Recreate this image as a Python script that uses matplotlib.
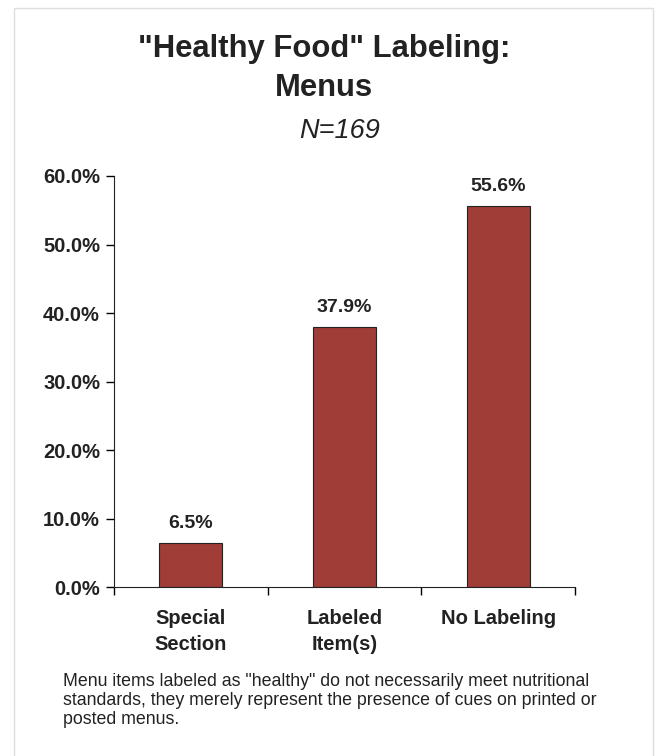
import numpy as np
from matplotlib import pyplot as plt
from matplotlib.patches import Rectangle
from matplotlib.ticker import FuncFormatter

plt.rcParams['font.family'] = ['Liberation Sans', 'DejaVu Sans']

categories = ["Special\nSection", "Labeled\nItem(s)", "No Labeling"]
shares = [0.065, 0.379, 0.556]
bar_labels = ["6.5%", "37.9%", "55.6%"]

fig = plt.figure(figsize=(6.55, 7.56), dpi=100)
ax = fig.add_axes([0.174, 0.2235, 0.704, 0.5437])

x = np.arange(len(categories))
ax.bar(x, shares, width=0.41, color='#a03d37', edgecolor='#222222', linewidth=0.8)

# etykiety nad slupkami
for xi, v, lab in zip(x, shares, bar_labels):
    ax.text(xi, v + 0.016, lab, ha='center', va='bottom', fontsize=14, fontweight='bold', color='#222222')

ax.set_xlim(-0.5, 2.5)
ax.set_ylim(0, 0.6)
ax.set_yticks(np.arange(0, 0.61, 0.1))
ax.yaxis.set_major_formatter(FuncFormatter(lambda v, p: f"{v*100:.1f}%"))
ax.set_xticks(x)
ax.set_xticklabels(categories, fontsize=14.5, fontweight='bold', color='#222222', linespacing=1.45)
ax.set_xticks([-0.5, 0.5, 1.5, 2.5], minor=True)
ax.tick_params(axis='x', which='major', length=0, pad=16)
ax.tick_params(axis='x', which='minor', length=6, direction='out', width=1)
ax.tick_params(axis='y', length=6, direction='out', width=1, labelsize=14.5, pad=4)
for t in ax.get_yticklabels():
    t.set_fontweight('bold')
    t.set_color('#222222')
for s in ['top', 'right']:
    ax.spines[s].set_visible(False)
for s in ['left', 'bottom']:
    ax.spines[s].set_color('#222222')

fig.text(0.495, 0.935, '"Healthy Food" Labeling:', ha='center', va='center', fontsize=22.3, fontweight='bold', color='#222222')
fig.text(0.495, 0.884, 'Menus', ha='center', va='center', fontsize=22.3, fontweight='bold', color='#222222')
fig.text(0.518, 0.827, 'N=169', ha='center', va='center', fontsize=19.5, style='italic', color='#222222')

fig.text(0.096, 0.074, 'Menu items labeled as "healthy" do not necessarily meet nutritional\n'
         'standards, they merely represent the presence of cues on printed or\n'
         'posted menus.', ha='left', va='center', fontsize=12.8, color='#222222', linespacing=1.15)

fig.patches.append(Rectangle((0.022, -0.01), 0.975, 0.999, transform=fig.transFigure,
                             fill=False, edgecolor='#dddddd', linewidth=1))

fig.savefig('out.png', dpi=100)
